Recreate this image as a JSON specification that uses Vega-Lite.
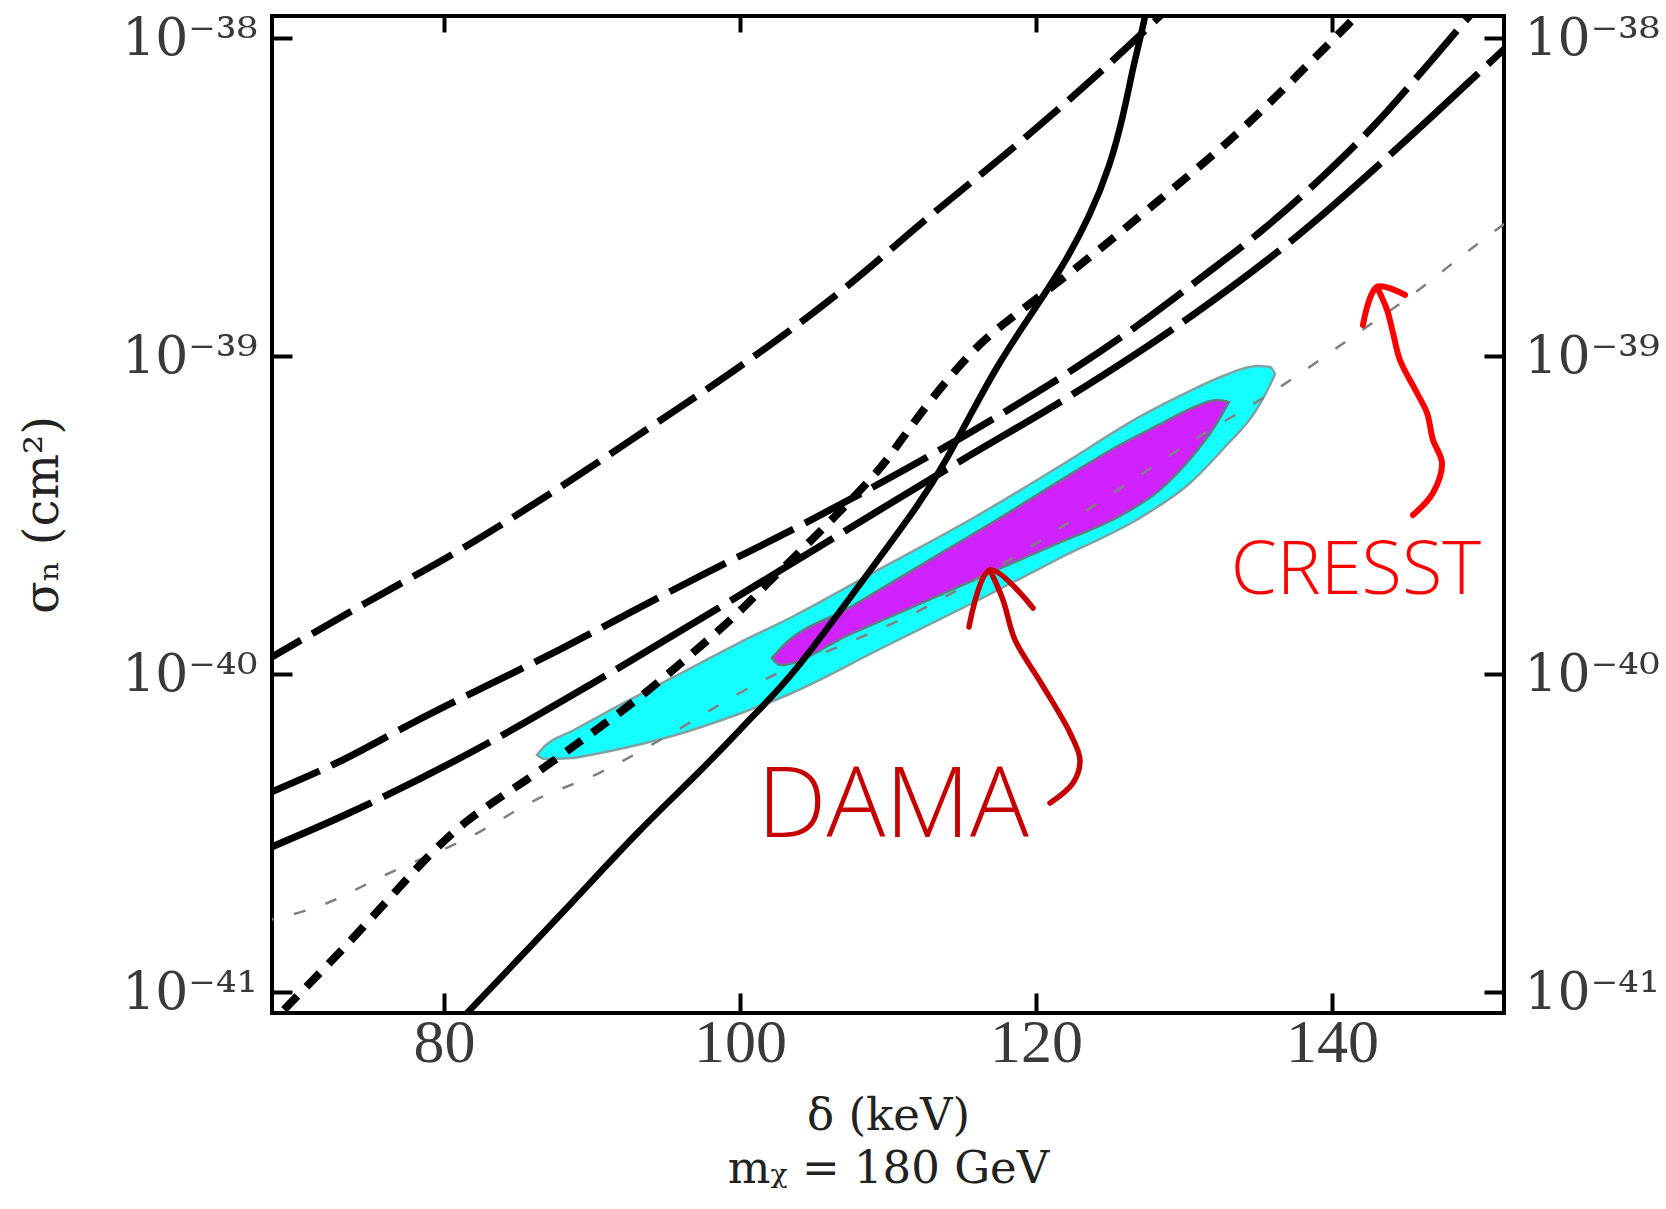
{
  "$schema": "https://vega.github.io/schema/vega-lite/v6.json",
  "width": 1232,
  "height": 997,
  "autosize": {"type": "none"},
  "padding": {"left": 272, "top": 16, "right": 162, "bottom": 196},
  "background": "white",
  "config": {
    "view": {"stroke": "black", "strokeWidth": 4},
    "axis": {
      "grid": false, "domain": false, "tickColor": "black", "tickWidth": 4, "tickSize": -20,
      "labelFont": "Liberation Serif", "labelColor": "#3a3a3a", "labelFlush": false, "labelOverlap": false,
      "titleFont": "DejaVu Serif", "titleFontWeight": "normal", "titleColor": "#222222"
    }
  },
  "datasets": {
    "cyan": [
      {"d": 86.28, "lo": 5.574e-41, "hi": 5.574e-41},
      {"d": 86.82, "lo": 5.415e-41, "hi": 5.951e-41},
      {"d": 88.65, "lo": 5.455e-41, "hi": 6.633e-41},
      {"d": 90.88, "lo": 5.697e-41, "hi": 7.554e-41},
      {"d": 95.41, "lo": 6.397e-41, "hi": 9.737e-41},
      {"d": 99.91, "lo": 7.503e-41, "hi": 1.254e-40},
      {"d": 103.51, "lo": 8.734e-41, "hi": 1.514e-40},
      {"d": 109.46, "lo": 1.201e-40, "hi": 2.144e-40},
      {"d": 115.99, "lo": 1.700e-40, "hi": 3.146e-40},
      {"d": 121.62, "lo": 2.321e-40, "hi": 4.519e-40},
      {"d": 127.23, "lo": 3.146e-40, "hi": 6.538e-40},
      {"d": 130.41, "lo": 3.996e-40, "hi": 7.780e-40},
      {"d": 132.64, "lo": 5.110e-40, "hi": 8.670e-40},
      {"d": 134.93, "lo": 6.829e-40, "hi": 9.322e-40},
      {"d": 135.81, "lo": 8.124e-40, "hi": 9.253e-40},
      {"d": 136.15, "lo": 8.797e-40, "hi": 8.797e-40}
    ],
    "magenta": [
      {"d": 102.16, "lo": 1.125e-40, "hi": 1.125e-40},
      {"d": 102.70, "lo": 1.070e-40, "hi": 1.201e-40},
      {"d": 107.43, "lo": 1.336e-40, "hi": 1.624e-40},
      {"d": 112.84, "lo": 1.721e-40, "hi": 2.295e-40},
      {"d": 117.77, "lo": 2.171e-40, "hi": 3.146e-40},
      {"d": 121.62, "lo": 2.599e-40, "hi": 4.063e-40},
      {"d": 125.68, "lo": 3.146e-40, "hi": 5.269e-40},
      {"d": 128.38, "lo": 3.801e-40, "hi": 6.116e-40},
      {"d": 130.41, "lo": 4.753e-40, "hi": 6.829e-40},
      {"d": 132.23, "lo": 6.170e-40, "hi": 7.290e-40},
      {"d": 133.04, "lo": 7.185e-40, "hi": 7.185e-40}
    ],
    "solid": [
      {"d": 80.47, "s": 7.61e-42}, {"d": 88.65, "s": 1.909e-41},
      {"d": 93.16, "s": 3.239e-41}, {"d": 97.66, "s": 5.122e-41}, {"d": 101.03, "s": 7.54e-41},
      {"d": 103.51, "s": 9.83e-41}, {"d": 107.91, "s": 1.868e-40}, {"d": 112.39, "s": 3.558e-40},
      {"d": 113.97, "s": 4.753e-40}, {"d": 115.54, "s": 6.49e-40}, {"d": 117.35, "s": 9.322e-40},
      {"d": 119.59, "s": 1.339e-39}, {"d": 121.84, "s": 1.923e-39}, {"d": 123.65, "s": 2.762e-39},
      {"d": 125.00, "s": 3.967e-39}, {"d": 125.90, "s": 5.697e-39}, {"d": 126.57, "s": 8.182e-39},
      {"d": 127.25, "s": 1.093e-38}, {"d": 127.57, "s": 1.319e-38}
    ],
    "dashB": [
      {"d": 67.70, "s": 1.088e-40}, {"d": 74.68, "s": 1.672e-40}, {"d": 81.44, "s": 2.519e-40},
      {"d": 87.97, "s": 3.909e-40}, {"d": 94.05, "s": 6.036e-40}, {"d": 100.36, "s": 9.548e-40},
      {"d": 106.98, "s": 1.624e-39}, {"d": 112.84, "s": 2.762e-39}, {"d": 119.14, "s": 4.813e-39},
      {"d": 124.78, "s": 8.182e-39}, {"d": 129.53, "s": 1.319e-38}
    ],
    "dashC": [
      {"d": 67.70, "s": 4.142e-41}, {"d": 73.16, "s": 5.377e-41}, {"d": 77.84, "s": 7.015e-41},
      {"d": 87.75, "s": 1.192e-40}, {"d": 97.66, "s": 2.078e-40}, {"d": 102.61, "s": 2.708e-40},
      {"d": 117.79, "s": 6.646e-40}, {"d": 122.52, "s": 9.103e-40}, {"d": 126.80, "s": 1.245e-39},
      {"d": 131.30, "s": 1.788e-39}, {"d": 135.36, "s": 2.508e-39}, {"d": 139.41, "s": 3.690e-39},
      {"d": 143.02, "s": 5.427e-39}, {"d": 146.40, "s": 8.182e-39}, {"d": 149.32, "s": 1.175e-38},
      {"d": 150.34, "s": 1.319e-38}
    ],
    "dashD": [
      {"d": 67.70, "s": 2.780e-41}, {"d": 73.56, "s": 3.655e-41}, {"d": 82.11, "s": 5.779e-41},
      {"d": 90.22, "s": 9.478e-41}, {"d": 98.33, "s": 1.593e-40}, {"d": 103.51, "s": 2.234e-40},
      {"d": 115.09, "s": 4.744e-40}, {"d": 122.30, "s": 7.503e-40}, {"d": 130.18, "s": 1.307e-39},
      {"d": 137.38, "s": 2.333e-39}, {"d": 144.82, "s": 4.696e-39}, {"d": 150.90, "s": 8.590e-39},
      {"d": 152.70, "s": 1.028e-38}
    ],
    "dotE": [
      {"d": 67.70, "s": 7.474e-42}, {"d": 69.61, "s": 9.234e-42}, {"d": 74.01, "s": 1.496e-41},
      {"d": 78.40, "s": 2.545e-41}, {"d": 81.55, "s": 3.525e-41}, {"d": 85.49, "s": 4.596e-41},
      {"d": 89.32, "s": 6.214e-41}, {"d": 92.93, "s": 8.199e-41}, {"d": 96.53, "s": 1.136e-40},
      {"d": 99.91, "s": 1.555e-40}, {"d": 101.71, "s": 1.909e-40}, {"d": 104.46, "s": 2.532e-40},
      {"d": 109.30, "s": 4.286e-40}, {"d": 110.59, "s": 5.223e-40}, {"d": 113.06, "s": 7.503e-40},
      {"d": 115.88, "s": 1.064e-39}, {"d": 117.57, "s": 1.245e-39}, {"d": 122.97, "s": 1.923e-39},
      {"d": 128.38, "s": 3.116e-39}, {"d": 133.56, "s": 4.930e-39}, {"d": 138.29, "s": 8.182e-39},
      {"d": 141.22, "s": 1.120e-38}, {"d": 142.70, "s": 1.319e-38}
    ],
    "thinF": [
      {"d": 67.70, "s": 1.666e-41}, {"d": 71.76, "s": 1.881e-41}, {"d": 76.03, "s": 2.338e-41},
      {"d": 82.23, "s": 3.162e-41}, {"d": 86.17, "s": 4.024e-41}, {"d": 90.45, "s": 4.884e-41},
      {"d": 94.61, "s": 6.214e-41}, {"d": 100.34, "s": 8.925e-41}, {"d": 113.09, "s": 1.675e-40},
      {"d": 119.29, "s": 2.459e-40}, {"d": 124.80, "s": 3.609e-40}, {"d": 130.34, "s": 5.339e-40},
      {"d": 136.26, "s": 7.876e-40}, {"d": 141.78, "s": 1.186e-39}, {"d": 145.61, "s": 1.585e-39},
      {"d": 149.21, "s": 2.144e-39}, {"d": 152.36, "s": 2.762e-39}
    ],
    "damaArrow": [
      {"part": "shaft", "i": 1, "d": 120.95, "s": 3.938e-41},
      {"part": "shaft", "i": 2, "d": 122.50, "s": 4.551e-41},
      {"part": "shaft", "i": 3, "d": 122.97, "s": 5.377e-41},
      {"part": "shaft", "i": 4, "d": 122.30, "s": 6.538e-41},
      {"part": "shaft", "i": 5, "d": 120.34, "s": 9.389e-41},
      {"part": "shaft", "i": 6, "d": 118.58, "s": 1.282e-40},
      {"part": "shaft", "i": 7, "d": 117.77, "s": 1.713e-40},
      {"part": "shaft", "i": 8, "d": 116.89, "s": 2.128e-40},
      {"part": "head", "i": 1, "d": 115.47, "s": 1.408e-40},
      {"part": "head", "i": 2, "d": 116.89, "s": 2.128e-40},
      {"part": "head", "i": 3, "d": 119.80, "s": 1.616e-40}
    ],
    "cresstArrow": [
      {"part": "shaft", "i": 1, "d": 145.47, "s": 3.168e-40},
      {"part": "shaft", "i": 2, "d": 146.82, "s": 3.717e-40},
      {"part": "shaft", "i": 3, "d": 147.43, "s": 4.619e-40},
      {"part": "shaft", "i": 4, "d": 146.82, "s": 5.455e-40},
      {"part": "shaft", "i": 5, "d": 146.42, "s": 6.633e-40},
      {"part": "shaft", "i": 6, "d": 145.74, "s": 7.666e-40},
      {"part": "shaft", "i": 7, "d": 144.59, "s": 9.737e-40},
      {"part": "shaft", "i": 8, "d": 144.12, "s": 1.184e-39},
      {"part": "shaft", "i": 9, "d": 143.72, "s": 1.398e-39},
      {"part": "shaft", "i": 10, "d": 143.04, "s": 1.652e-39},
      {"part": "head", "i": 1, "d": 142.09, "s": 1.254e-39},
      {"part": "head", "i": 2, "d": 143.04, "s": 1.652e-39},
      {"part": "head", "i": 3, "d": 144.93, "s": 1.559e-39}
    ],
    "notes": [
      {"label": "DAMA", "d": 110.34, "s": 3.799e-41},
      {"label": "CRESST", "d": 141.62, "s": 2.097e-40}
    ]
  },
  "layer": [
    {
      "data": {"name": "cyan"},
      "mark": {"type": "area", "interpolate": "monotone", "fill": "#14ffff", "fillOpacity": 1, "stroke": "#7fa3a3", "strokeWidth": 2.5, "clip": true},
      "encoding": {
        "x": {"field": "d", "type": "quantitative", "scale": {"domain": [68.38, 151.62], "nice": false, "zero": false},
          "axis": {"orient": "bottom", "values": [80, 100, 120, 140], "labelFontSize": 62, "labelPadding": 19,
            "title": ["δ (keV)", "mᵪ = 180 GeV"], "titleFontSize": 45, "titleLineHeight": 53, "titlePadding": 20}},
        "y": {"field": "lo", "type": "quantitative", "scale": {"type": "log", "domain": [8.608e-42, 1.175e-38], "nice": false},
          "axis": {"orient": "left", "values": [1e-41, 1e-40, 1e-39, 1e-38],
            "labelExpr": "datum.value < 5e-41 ? '10⁻⁴¹' : datum.value < 5e-40 ? '10⁻⁴⁰' : datum.value < 5e-39 ? '10⁻³⁹' : '10⁻³⁸'",
            "labelFont": "DejaVu Serif", "labelFontSize": 52, "labelPadding": 35, "title": "σₙ (cm²)", "titleFontSize": 48, "titlePadding": 54}},
        "y2": {"field": "hi"}
      }
    },
    {
      "data": {"name": "magenta"},
      "mark": {"type": "area", "interpolate": "monotone", "fill": "#cf22ff", "fillOpacity": 1, "stroke": "#5f7f7f", "strokeWidth": 2.5, "clip": true},
      "encoding": {
        "x": {"field": "d", "type": "quantitative", "scale": {"domain": [68.38, 151.62], "nice": false, "zero": false},
          "axis": {"orient": "top", "values": [80, 100, 120, 140], "labels": false, "title": null, "tickSize": -16}},
        "y": {"field": "lo", "type": "quantitative", "scale": {"type": "log", "domain": [8.608e-42, 1.175e-38], "nice": false},
          "axis": {"orient": "right", "values": [1e-41, 1e-40, 1e-39, 1e-38],
            "labelExpr": "datum.value < 5e-41 ? '10⁻⁴¹' : datum.value < 5e-40 ? '10⁻⁴⁰' : datum.value < 5e-39 ? '10⁻³⁹' : '10⁻³⁸'",
            "labelFont": "DejaVu Serif", "labelFontSize": 52, "labelPadding": 40, "title": null}},
        "y2": {"field": "hi"}
      }
    },
    {
      "data": {"name": "thinF"},
      "mark": {"type": "line", "interpolate": "monotone", "color": "#808080", "strokeWidth": 2.5, "strokeDash": [12, 21], "clip": true},
      "encoding": {
        "x": {"field": "d", "type": "quantitative", "scale": {"domain": [68.38, 151.62], "nice": false, "zero": false}, "axis": null},
        "y": {"field": "s", "type": "quantitative", "scale": {"type": "log", "domain": [8.608e-42, 1.175e-38], "nice": false}, "axis": null}
      }
    },
    {
      "data": {"name": "solid"},
      "mark": {"type": "line", "interpolate": "basis", "color": "black", "strokeWidth": 6.5, "clip": true},
      "encoding": {
        "x": {"field": "d", "type": "quantitative", "scale": {"domain": [68.38, 151.62], "nice": false, "zero": false}, "axis": null},
        "y": {"field": "s", "type": "quantitative", "scale": {"type": "log", "domain": [8.608e-42, 1.175e-38], "nice": false}, "axis": null}
      }
    },
    {
      "data": {"name": "dashB"},
      "mark": {"type": "line", "interpolate": "monotone", "color": "black", "strokeWidth": 7, "strokeDash": [45, 13], "clip": true},
      "encoding": {
        "x": {"field": "d", "type": "quantitative", "scale": {"domain": [68.38, 151.62], "nice": false, "zero": false}, "axis": null},
        "y": {"field": "s", "type": "quantitative", "scale": {"type": "log", "domain": [8.608e-42, 1.175e-38], "nice": false}, "axis": null}
      }
    },
    {
      "data": {"name": "dashC"},
      "mark": {"type": "line", "interpolate": "monotone", "color": "black", "strokeWidth": 7, "strokeDash": [63, 13], "clip": true},
      "encoding": {
        "x": {"field": "d", "type": "quantitative", "scale": {"domain": [68.38, 151.62], "nice": false, "zero": false}, "axis": null},
        "y": {"field": "s", "type": "quantitative", "scale": {"type": "log", "domain": [8.608e-42, 1.175e-38], "nice": false}, "axis": null}
      }
    },
    {
      "data": {"name": "dashD"},
      "mark": {"type": "line", "interpolate": "monotone", "color": "black", "strokeWidth": 7, "strokeDash": [120, 13], "clip": true},
      "encoding": {
        "x": {"field": "d", "type": "quantitative", "scale": {"domain": [68.38, 151.62], "nice": false, "zero": false}, "axis": null},
        "y": {"field": "s", "type": "quantitative", "scale": {"type": "log", "domain": [8.608e-42, 1.175e-38], "nice": false}, "axis": null}
      }
    },
    {
      "data": {"name": "dotE"},
      "mark": {"type": "line", "interpolate": "basis", "color": "black", "strokeWidth": 8, "strokeDash": [19, 13], "clip": true},
      "encoding": {
        "x": {"field": "d", "type": "quantitative", "scale": {"domain": [68.38, 151.62], "nice": false, "zero": false}, "axis": null},
        "y": {"field": "s", "type": "quantitative", "scale": {"type": "log", "domain": [8.608e-42, 1.175e-38], "nice": false}, "axis": null}
      }
    },
    {
      "data": {"name": "damaArrow"},
      "mark": {"type": "line", "interpolate": "catmull-rom", "color": "#c40000", "strokeWidth": 5.5, "strokeCap": "round", "strokeJoin": "round"},
      "encoding": {
        "x": {"field": "d", "type": "quantitative", "scale": {"domain": [68.38, 151.62], "nice": false, "zero": false}, "axis": null},
        "y": {"field": "s", "type": "quantitative", "scale": {"type": "log", "domain": [8.608e-42, 1.175e-38], "nice": false}, "axis": null},
        "detail": {"field": "part"},
        "order": {"field": "i", "type": "quantitative"}
      }
    },
    {
      "data": {"name": "cresstArrow"},
      "mark": {"type": "line", "interpolate": "catmull-rom", "color": "#ff0000", "strokeWidth": 6, "strokeCap": "round", "strokeJoin": "round"},
      "encoding": {
        "x": {"field": "d", "type": "quantitative", "scale": {"domain": [68.38, 151.62], "nice": false, "zero": false}, "axis": null},
        "y": {"field": "s", "type": "quantitative", "scale": {"type": "log", "domain": [8.608e-42, 1.175e-38], "nice": false}, "axis": null},
        "detail": {"field": "part"},
        "order": {"field": "i", "type": "quantitative"}
      }
    },
    {
      "data": {"name": "notes"},
      "mark": {"type": "text", "font": "Open Sans", "fontWeight": 300, "align": "center", "baseline": "middle"},
      "encoding": {
        "x": {"field": "d", "type": "quantitative", "scale": {"domain": [68.38, 151.62], "nice": false, "zero": false}, "axis": null},
        "y": {"field": "s", "type": "quantitative", "scale": {"type": "log", "domain": [8.608e-42, 1.175e-38], "nice": false}, "axis": null},
        "text": {"field": "label"},
        "size": {"field": "label", "type": "nominal", "scale": {"domain": ["DAMA", "CRESST"], "range": [98, 74]}, "legend": null},
        "color": {"field": "label", "type": "nominal", "scale": {"domain": ["DAMA", "CRESST"], "range": ["#c40000", "#ff0000"]}, "legend": null}
      }
    }
  ],
  "resolve": {"axis": {"x": "independent", "y": "independent"}}
}
